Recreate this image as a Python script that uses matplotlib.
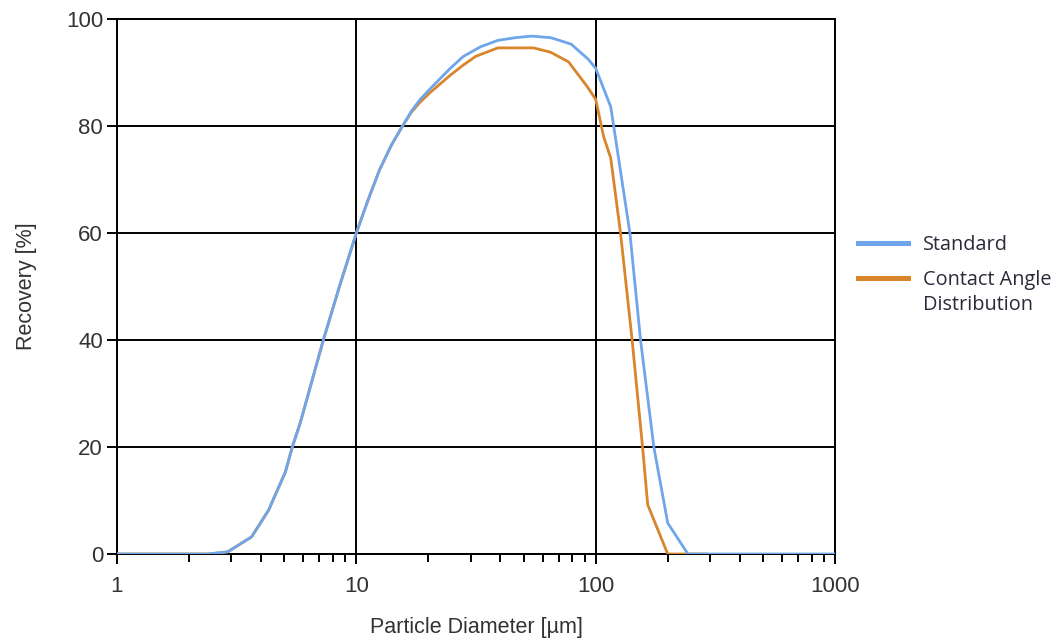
import matplotlib
matplotlib.use("Agg")
import matplotlib.pyplot as plt
from matplotlib.lines import Line2D
from matplotlib.ticker import LogLocator, FixedLocator, NullFormatter, FixedFormatter

# ---- data ----
std_d = [1, 2.4, 2.9, 3.65, 4.3, 5.05, 5.4, 5.83, 7.28, 8.5, 10, 11.2, 12.5, 14, 15.6, 17, 18.5, 20.4,
         24.7, 28, 33, 39, 46, 54, 65, 79, 93, 100, 115.6, 139, 154, 175, 200, 243, 1000]
std_y = [0, 0, 0.4, 3.2, 8.2, 15.3, 20, 24.5, 40, 50, 60, 66.2, 71.8, 76.4, 80, 82.8, 85.0, 87.0,
         90.8, 93.0, 94.8, 96.0, 96.5, 96.8, 96.5, 95.3, 92.5, 90.8, 83.6, 60, 40, 20, 5.8, 0, 0]

cad_d = [1, 2.4, 2.9, 3.65, 4.3, 5.05, 5.4, 5.83, 7.28, 8.5, 10, 11.2, 12.5, 14, 15.6, 17, 18.5, 20.4,
         24.7, 28, 31.5, 39, 55, 64.7, 77, 92.4, 100, 108, 115.6, 127, 142, 157, 165, 200, 290]
cad_y = [0, 0, 0.4, 3.2, 8.2, 15.3, 20, 24.5, 40, 50, 60, 66.2, 71.8, 76.4, 80, 82.6, 84.5, 86.3,
         89.5, 91.4, 93.0, 94.6, 94.6, 93.8, 92.0, 87.3, 85.0, 78, 74, 60, 40, 20, 9.2, 0, 0]

x_ticks = [1, 10, 100, 1000]
x_tick_labels = ["1", "10", "100", "1000"]
y_ticks = [0, 20, 40, 60, 80, 100]
y_tick_labels = ["0", "20", "40", "60", "80", "100"]

series_names = ["Standard", "Contact Angle\nDistribution"]
blue = "#6FA5EA"
orange = "#D9852C"
txt = "#333333"

plt.rcParams['font.family'] = ['Liberation Sans', 'DejaVu Sans']

fig = plt.figure(figsize=(10.55, 6.38), dpi=100)
ax = fig.add_axes([117/1055, 1-554/638, (835-117)/1055, (554-19)/638])

l2, = ax.plot(cad_d, cad_y, color=orange, lw=2.0, zorder=3)
l1, = ax.plot(std_d, std_y, color=blue, lw=2.0, zorder=4)

ax.set_xscale('log')
ax.set_xlim(1, 1000)
ax.set_ylim(0, 100)

ax.xaxis.set_major_locator(FixedLocator(x_ticks))
ax.xaxis.set_major_formatter(FixedFormatter(x_tick_labels))
ax.xaxis.set_minor_locator(LogLocator(base=10, subs=range(2, 10)))
ax.xaxis.set_minor_formatter(NullFormatter())
ax.yaxis.set_major_locator(FixedLocator(y_ticks))
ax.yaxis.set_major_formatter(FixedFormatter(y_tick_labels))

ax.grid(True, which='major', color='black', lw=1.4, zorder=1)
ax.set_axisbelow(True)
for s in ax.spines.values():
    s.set_color('black')
    s.set_linewidth(1.4)

ax.tick_params(axis='both', which='major', direction='out', length=7, width=1.4,
               colors='black', labelcolor=txt, labelsize=16)
ax.tick_params(axis='x', which='major', pad=9)
ax.tick_params(axis='y', which='major', pad=3)
ax.tick_params(axis='x', which='minor', direction='out', length=6, width=1.4, colors='black')
ax.tick_params(axis='y', which='minor', left=False)

ax.set_xlabel("Particle Diameter [µm]", fontsize=15.5, color=txt, labelpad=14)
ax.set_ylabel("Recovery [%]", fontsize=15.5, color=txt, labelpad=21)

# legend drawn in figure coordinates
leg_font = {'family': ['Open Sans', 'DejaVu Sans'], 'size': 14.3}
leg_rows = [(243, l1.get_color()), (278, l2.get_color())]
for (ypx, col), name in zip(leg_rows, series_names):
    yf = 1 - ypx/638
    fig.add_artist(Line2D([858/1055, 908/1055], [yf, yf], color=col, lw=3.6,
                          transform=fig.transFigure))
    first = 1 - (ypx - 8)/638
    fig.text(923/1055, first, name, ha='left', va='top', color='#2a2a3a',
             linespacing=1.3, fontdict=leg_font)

fig.savefig("out.png", dpi=100)
